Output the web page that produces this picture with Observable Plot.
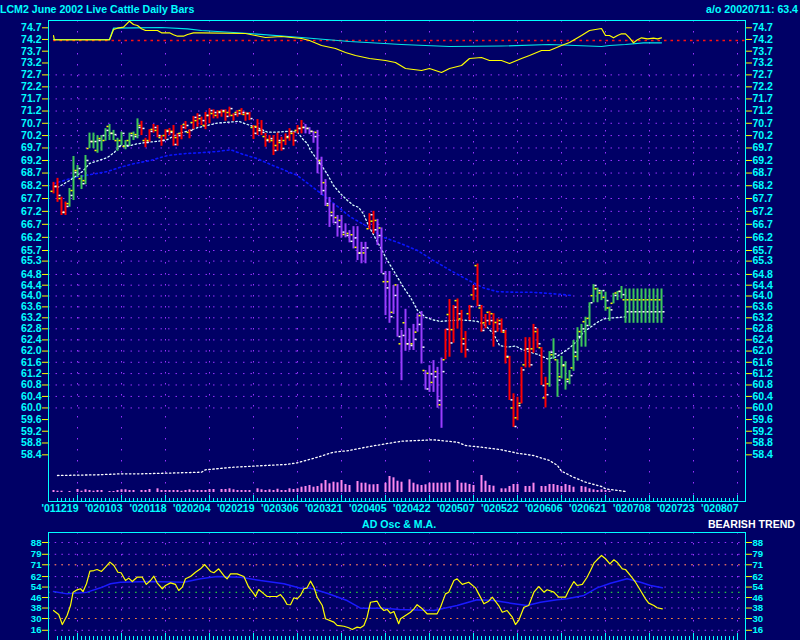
<!DOCTYPE html>
<html><head><meta charset="utf-8">
<script src="https://cdn.jsdelivr.net/npm/d3@7"></script>
<script src="https://cdn.jsdelivr.net/npm/@observablehq/plot@0.6"></script>
<style>
html,body{margin:0;padding:0;background:#000066;}
#wrap{position:relative;width:800px;height:640px;overflow:hidden;background:#000066;font-family:"Liberation Sans",Arial,sans-serif;font-weight:bold;}
.lyr{position:absolute;left:0;}
.txt{position:absolute;color:#00ffff;font-size:10.6px;white-space:nowrap;line-height:normal;}
</style></head><body>
<div id="wrap">
 <div class="txt" style="left:0;top:3px;">LCM2 June 2002 Live Cattle Daily Bars</div>
 <div class="txt" style="right:2px;top:3px;">a/o 20020711: 63.4</div>
 <div id="main" class="lyr" style="top:0"></div>
 <div id="vol" class="lyr" style="top:0"></div>
 <div id="mini" class="lyr" style="top:0"></div>
 <div class="txt" style="left:362px;top:518px;">AD Osc &amp; M.A.</div>
 <div class="txt" style="right:5px;top:518px;color:#ffffff">BEARISH TREND</div>
 <div id="osc" class="lyr" style="top:522px"></div>
</div>
<script>
// ---------- DATA ----------
const dateLabels = ["'011219","'020103","'020118","'020204","'020219","'020306","'020321","'020405","'020422","'020507","'020522","'020606","'020621","'020708","'020723","'020807"];
const majorIdx = [6,17,28,39,50,61,72,83,94,105,116,127,138,149,160,171];
const priceTicks = [74.7,74.2,73.7,73.2,72.7,72.2,71.7,71.2,70.7,70.2,69.7,69.2,68.7,68.2,67.7,67.2,66.7,66.2,65.7,65.3,64.8,64.4,64.0,63.6,63.2,62.8,62.4,62.0,61.6,61.2,60.8,60.4,60.0,59.6,59.2,58.8,58.4];
const oscTickVals = [88,79,71,62,54,46,38,30,21];
const oscTickLabels = ["88","79","71","62","54","46","38","30","16"];

const high = [68.33,68.49,67.75,67.56,68.09,69.36,69.00,68.60,69.40,70.30,
70.30,70.20,70.20,70.48,70.65,70.41,70.09,70.34,70.00,70.30,
70.34,70.88,70.78,70.09,70.44,70.65,70.61,70.20,70.44,70.49,
70.61,70.27,70.61,70.77,70.44,70.98,71.09,70.95,71.14,71.29,
71.25,71.22,71.25,71.25,71.36,71.09,71.22,71.30,71.15,71.14,
70.61,70.85,70.81,70.29,70.20,70.20,70.30,70.13,70.27,70.48,
70.34,70.61,70.81,70.65,70.52,70.37,70.41,69.33,68.44,67.74,
67.49,67.04,67.04,66.72,66.46,66.61,66.61,66.01,66.01,67.11,
67.20,66.89,66.56,64.91,64.91,64.39,64.42,62.74,63.51,62.80,
62.96,63.35,63.43,61.31,61.48,61.66,61.42,61.75,62.78,63.87,
63.65,63.89,63.47,62.70,63.65,64.39,65.19,63.65,63.32,63.43,
63.35,63.16,63.16,62.74,61.81,60.49,60.37,61.42,62.48,62.48,
62.96,62.80,62.12,61.07,61.98,62.44,61.69,61.81,61.62,61.31,
62.38,62.84,62.96,63.22,63.75,64.42,64.29,64.20,64.14,63.59,
64.10,64.17,64.35,64.26,64.26,64.26,64.26,64.26,64.26,64.26,
64.26,64.26,64.26];
const low = [67.88,67.55,67.04,67.04,67.36,67.62,68.53,68.05,68.24,69.67,
69.67,69.49,69.57,69.97,70.00,70.00,69.57,69.80,69.63,69.76,
70.00,70.07,70.20,69.71,69.93,70.30,70.11,69.77,70.03,70.20,
69.77,69.77,70.03,70.44,70.07,70.44,70.54,70.61,70.44,70.68,
70.88,70.88,70.95,70.78,70.95,70.78,70.95,71.02,70.78,70.81,
70.04,70.20,70.20,69.73,69.89,69.40,69.57,69.57,69.80,69.97,
69.77,70.27,70.27,70.27,70.24,69.89,68.67,67.82,67.39,66.58,
66.72,66.21,66.18,66.18,65.99,65.76,65.32,65.20,65.20,66.49,
66.33,65.89,64.83,63.28,63.00,63.32,62.50,60.95,61.99,62.02,
62.02,62.68,61.54,60.62,60.54,60.54,59.99,59.30,61.69,61.78,
62.28,62.79,61.92,61.75,63.10,63.83,63.61,62.68,62.80,62.92,
62.14,62.68,62.64,61.54,60.26,59.33,59.56,60.14,61.40,61.40,
61.92,62.10,60.78,60.00,60.72,61.70,60.37,61.01,60.62,60.81,
61.28,61.64,62.14,62.14,62.88,63.75,63.75,63.83,63.44,63.07,
63.71,63.83,63.89,63.00,63.00,63.00,63.00,63.00,63.00,63.00,
63.00,63.00,63.00];
const open = [67.98,68.17,67.70,67.16,67.50,68.01,68.80,68.48,68.40,69.68,
69.96,69.60,70.08,70.00,70.57,70.29,70.00,70.00,69.76,70.00,
70.29,70.24,70.61,70.00,70.00,70.45,70.41,70.12,70.20,70.41,
70.37,70.12,70.29,70.65,70.33,70.73,70.81,70.89,70.61,71.02,
71.10,71.02,71.18,71.18,71.14,71.02,71.14,71.22,71.06,71.10,
70.53,70.57,70.41,70.16,70.04,70.00,69.80,69.92,70.00,70.12,
70.29,70.41,70.49,70.53,70.49,70.37,70.33,69.20,68.32,67.43,
67.16,66.96,66.85,66.31,66.35,66.30,65.82,65.61,65.61,66.53,
66.82,66.85,66.56,64.53,64.53,63.40,64.41,62.26,63.02,62.26,
62.26,62.68,63.28,61.31,61.21,60.89,61.27,60.11,61.69,63.32,
62.77,63.83,63.16,62.44,63.35,64.04,65.13,63.56,63.02,63.40,
63.35,63.03,63.10,62.68,61.78,60.00,59.66,60.16,61.51,62.08,
62.08,62.70,62.12,60.35,60.84,61.87,61.69,61.09,61.48,61.00,
61.40,61.81,62.70,63.06,63.18,64.01,64.27,64.11,63.95,63.56,
63.73,64.11,64.17,63.86,63.86,63.86,63.86,63.86,63.86,63.86,
63.86,63.86,63.86];
const close = [68.17,67.82,67.16,67.39,67.82,68.72,68.88,68.28,69.20,69.96,
69.96,70.00,70.20,70.41,70.29,70.24,69.76,70.29,69.80,70.20,
70.16,70.53,70.49,69.92,70.37,70.53,70.20,70.00,70.37,70.33,
69.84,70.20,70.53,70.61,70.41,70.94,71.02,70.81,71.02,71.22,
71.14,71.14,71.22,70.98,71.30,71.06,71.10,71.14,71.10,70.89,
70.29,70.41,70.33,70.00,70.08,69.60,70.00,69.68,70.16,70.37,
70.00,70.49,70.53,70.49,70.37,70.16,69.08,68.01,67.50,67.04,
66.77,66.61,66.40,66.27,66.05,66.18,65.60,65.80,65.80,67.07,
66.49,66.27,64.83,64.30,63.24,64.02,62.52,62.56,62.26,62.20,
62.42,62.96,62.14,60.66,61.19,61.09,60.26,61.27,62.78,62.29,
63.59,63.35,62.26,62.05,63.61,64.27,63.65,62.74,63.10,63.10,
62.70,62.98,62.74,61.81,60.28,59.36,60.08,61.33,62.08,61.51,
62.84,62.26,60.78,60.46,61.96,61.90,60.97,61.51,60.92,61.13,
61.96,62.52,62.80,62.92,63.75,64.39,64.20,64.20,63.83,63.49,
64.02,64.17,64.05,63.42,63.42,63.42,63.42,63.42,63.42,63.42,
63.42,63.42,63.42];
// trend state per bar: G = up (green), R = neutral (red), P = down (purple)
const trendCodes = ["RRRRGGGGGG","GGGGGGGGGG","GGRRRRRRRR","RRRRRRRRRR","RRRRRRRRRR","RRRRRRRRRR","RRRPPPPPPP","PPPPPPPPPR","RPPPPPPPPP","PPPPPPPPRR","RRRRRRRRRR","RRRRRRRRRR","RRRRGGGGGG","GGGGGGGGGG","GGGGGGGGGG","GGG"].join("");
// volume, thousands of contracts
const volume = [2,1.3,1.3,0,1,0,3,1.3,2.7,2,
1.3,2,2,0,1,1,2,2.7,2.7,2,
2,0,2,2,3,0,3.7,2,2,2,
2,2,1.3,2,2.7,2,2,2,2,3,
3,0,3,3,3.7,2.7,2,2,2,2,
0,3.7,2.7,2,2.7,2,3.3,2,2,3.7,
3,3.7,5.3,6,7,5.3,6,8.7,12,8.7,
10.3,9.7,12,8,7,0,11,9.3,9.3,7.7,
7.7,8,0,9.3,16,14.7,11.3,10.3,0,12.7,
9.3,7.7,7,7.7,9.3,9.3,9.3,9.3,9.3,9.7,
0,12,9.3,9.3,8,7,0,17,11.3,7,
6.3,0,3.7,3.7,6,8,8,0,6,6,
9.3,0,6,6,8,8,7,6,8,7,
5.3,0,6,5.3,3.7,2.7,2,2.7,2,1.3];
// open interest, thousands [bar, value]
const openInterest = [[1,17],[11,17.7],[17,18.7],[22,18.7],[28,19.3],[37,20.3],[38,22.7],[45,25.3],[53,27],[58,28],[61,29.7],[66,35.3],[70,40.3],[74,42],[78,45.3],[82,48],[87,51.3],[95,52.7],[101,50.3],[103,47],[107,45.3],[112,42.7],[116,39.3],[120,37],[124,32],[126,27],[127,21.3],[130,15.3],[133,10.3],[137,6],[138,3.7],[143,1]];
// short and long moving averages of price [bar, price]
const maFast = [[1,68.13],[4,68.40],[7.25,68.76],[9,69.08],[11.25,69.20],[13.5,69.32],[15.25,69.53],[16.75,69.80],[18.5,69.77],[21,69.87],[23.5,69.93],[26,69.97],[28.5,70.04],[31,70.27],[33.5,70.38],[36,70.52],[38.5,70.61],[41,70.71],[43.5,70.74],[46.25,70.78],[48.5,70.65],[51,70.52],[53.5,70.34],[56,70.34],[58.5,70.37],[61,70.34],[62.25,70.07],[63.5,69.87],[64.25,69.60],[65.5,69.33],[66.75,69.07],[68.5,68.64],[70,68.21],[71.75,67.89],[73.5,67.62],[75,67.43],[76.25,67.36],[77.5,67.10],[78.75,66.65],[81.75,65.81],[83.5,65.32],[85.5,64.82],[87.5,64.32],[89.25,63.95],[91,63.47],[93,63.22],[95,63.12],[96.75,63.07],[99.25,63.10],[101.75,63.12],[104.25,63.10],[106,63.07],[108,62.92],[110,62.62],[111.5,62.20],[113.5,62.14],[115.5,62.18],[117.25,62.05],[119.25,61.96],[121.25,61.87],[123.5,61.72],[125.5,61.78],[127.5,61.96],[129.25,62.14],[131,62.38],[132.5,62.68],[134.25,62.86],[136,63.04],[137.5,63.16],[139.25,63.19],[141.75,63.22],[143.5,63.24]];
const maSlow = [[0,68.28],[5,68.52],[9.25,68.64],[13.5,68.76],[16.75,68.93],[20,69.07],[24.25,69.20],[28.5,69.40],[32.5,69.47],[36.75,69.51],[41,69.56],[44.25,69.63],[47.5,69.44],[51,69.27],[54.25,69.04],[57.5,68.83],[61,68.60],[64.25,68.21],[67.5,67.82],[71,67.39],[74.25,66.98],[78.5,66.61],[82.5,66.20],[86.75,65.97],[91,65.70],[95,65.32],[99.25,64.95],[103.5,64.60],[107.5,64.30],[111,64.16],[115,64.14],[119.25,64.14],[123.5,64.10],[127.5,64.05],[129.25,64.02]];
// relative strength strip (index, 100 = reference)
const rsLine = [[0,105],[0.2,100.7],[14,100.7],[15,111],[16,112.3],[17.5,113.3],[19,119.3],[20,116],[21,115],[22,111.7],[23,110],[26,110],[27,107.7],[29,107.7],[30,105.7],[31,104.3],[32.5,104.3],[33.5,106],[35,107.7],[37,107.7],[48,107],[50.5,105],[53,103],[57,104],[62,102],[64,100],[67,95],[70.5,92],[73,88],[75.5,85],[79,82],[83,80],[85.5,78],[88,72],[92,70],[94,72],[97,68],[99,72],[102,75],[104,82],[107,83],[109,80],[112,80],[114,77],[117,82],[119,85],[122,90],[124,90],[127,95],[129,98],[132,105],[134,110],[137,112],[138,105],[139,105],[140,102.7],[141,105],[142,106.7],[143,106.7],[144,102.7],[145,97.7],[146,100.7],[147,102.7],[148.5,101.7],[150,102.3],[151,101.7],[152,102.7]];
const rsAvg = [[0,101],[14,101],[15,112.3],[20,112.7],[27,113],[33.5,111.7],[37,110],[49,107],[62,103],[74,99],[87,96],[99,94],[112,94.5],[124,96],[137,94],[139,95],[143,96],[147.5,97.7],[152,97.7]];
// AD oscillator and its moving average [bar, value]
const adOsc = [[0,36.1],[1.3,33.1],[2.2,25.4],[3.4,32.3],[4.25,39.9],[4.9,50.1],[5.9,51.9],[6.75,52.7],[7.4,50.6],[8.25,56.5],[9.1,66.1],[10.1,66.6],[10.9,67.4],[12,65.9],[13,69.2],[14.1,73.0],[15.1,70.4],[16.1,65.3],[16.9,64.9],[18,59.0],[18.8,60.8],[19.7,58.2],[20.9,61.5],[22.2,61.5],[23.2,56.0],[24.25,59.0],[25.1,62.3],[25.9,57.2],[27.2,52.7],[28,55.2],[29.25,57.2],[30.5,56.0],[31.3,51.4],[32.2,53.9],[33,60.3],[34.25,62.1],[35.5,65.3],[36.75,67.9],[37.8,71.2],[39.25,65.9],[40.1,64.9],[41.3,67.9],[42.75,62.1],[43.4,60.3],[44.25,64.1],[45.9,64.1],[47.6,62.1],[48.8,53.9],[50.1,48.8],[50.5,46.8],[51.3,52.1],[52.6,48.8],[53.4,46.8],[55.9,46.8],[56.75,48.3],[57.6,45.0],[58.4,40.7],[59.25,40.5],[60.1,45.8],[60.9,45.0],[61.75,47.6],[62.6,52.7],[63.4,53.4],[64.25,58.5],[65.1,53.9],[65.9,46.3],[67.2,39.9],[68,29.8],[70.1,27.2],[70.9,24.7],[72.6,24.1],[73.8,22.9],[74.7,21.6],[75.9,23.4],[76.75,22.9],[77.6,24.7],[78.4,31.0],[79.25,42.4],[80.9,43.2],[81.75,38.6],[82.6,36.1],[83.4,36.9],[84.25,34.0],[85.1,35.3],[86.3,26.0],[86.75,29.8],[89.25,34.8],[90.1,37.4],[90.9,40.5],[92.2,37.4],[93.4,33.6],[95.9,33.6],[96.75,38.6],[98,48.8],[98.8,50.1],[100.1,59.0],[100.9,60.3],[102.2,56.0],[103.8,57.7],[105.5,53.4],[106.3,48.8],[107.6,41.2],[108.8,43.2],[109.7,46.3],[111.3,39.9],[112.2,34.8],[113.4,36.1],[114.7,31.0],[115.5,25.4],[116.3,28.5],[117.6,38.6],[118.8,39.9],[120.1,50.1],[121.3,54.4],[122.6,50.1],[123.4,51.9],[125.1,50.1],[126.3,46.3],[128,46.3],[128.8,51.4],[130.1,58.2],[130.9,55.2],[132.2,56.0],[133.4,61.5],[134.25,66.6],[135.1,72.2],[135.9,74.8],[137,78.1],[138,75.6],[139.1,71.7],[140.1,74.8],[140.9,73.0],[142.2,67.9],[143,67.4],[144.25,62.8],[145.5,57.7],[146.75,51.4],[148,45.0],[148.8,41.7],[150.1,39.9],[150.9,38.2],[152.2,37.4]];
const adOscMA = [[0,50.6],[3.4,48.8],[8.4,50.1],[11.75,53.4],[14.25,56.5],[16.75,57.7],[24.25,58.2],[32.6,57.7],[36.75,60.3],[40.9,62.1],[46.75,61.5],[51.75,59.0],[57.6,56.5],[61.75,53.1],[64.25,53.1],[68.4,49.3],[73.4,43.7],[76.75,37.9],[82.6,37.9],[86.5,36.8],[95.1,36.1],[100.9,39.9],[105.9,44.3],[110.1,43.7],[114.25,41.7],[118.4,39.9],[121.75,42.4],[125.9,44.3],[128.4,45.0],[132.6,47.6],[135.9,53.4],[139.25,56.9],[143.4,60.3],[146.75,57.7],[149.25,55.2],[152.2,53.4]];

// ---------- CHART ----------
const CYAN = "#00ffff", YEL = "#ffff00", GRID = "#9933ff";
const trendColor = {G: "#3cc85a", R: "#ff0000", P: "#9b3cff"};
const xDomain = [-1.25, 173];
const dayTicks = d3.range(1, 172);
const style = {background: "transparent", fontFamily: "Liberation Sans, Arial, sans-serif", fontSize: "10.5px", fontWeight: "bold", overflow: "visible"};
const bars = high.map((h, i) => ({i, high: h, low: low[i], open: open[i], close: close[i], trend: trendCodes[i]}));
const vols = volume.map((v, i) => ({i, v})).filter(d => d.v > 0);
const px = d => d[0], py = d => d[1];

const main = Plot.plot({
  width: 800, height: 520, marginTop: 20, marginBottom: 19, marginLeft: 48, marginRight: 55,
  style,
  color: {type: "identity"},
  x: {domain: xDomain},
  y: {type: "log", domain: [56.85, 75.015]},
  marks: [
    Plot.ruleX(majorIdx, {stroke: GRID, strokeDasharray: "1.5,9.5"}),
    Plot.ruleY(priceTicks.filter(v => v <= 72.7 && v >= 60.0), {stroke: GRID, strokeDasharray: "1.5,6"}),
    Plot.line(maSlow, {x: px, y: py, stroke: "#0a14ff", strokeWidth: 1.6, strokeDasharray: "1.8,3"}),
    Plot.line(maFast, {x: px, y: py, stroke: "#d8ffff", strokeWidth: 1.3, strokeDasharray: "1.5,2.5"}),
    Plot.ruleX(bars, {x: "i", y1: "low", y2: "high", stroke: d => trendColor[d.trend], strokeWidth: 2}),
    Plot.link(bars, {x1: d => d.i - 0.75, x2: d => d.i - 0.25, y1: "open", y2: "open", stroke: YEL, strokeWidth: 1.5}),
    Plot.link(bars, {x1: d => d.i + 0.25, x2: d => d.i + 0.75, y1: "close", y2: "close", stroke: "#ffffff", strokeWidth: 1.5}),
    Plot.ruleX(dayTicks, {stroke: CYAN, insetTop: 478}),
    Plot.ruleX(majorIdx, {stroke: CYAN, insetTop: 475}),
    Plot.frame({stroke: CYAN}),
    Plot.axisY({anchor: "left", ticks: priceTicks, tickFormat: d => d.toFixed(1), tickSize: 6, tickPadding: 1, stroke: YEL, fill: CYAN, label: null}),
    Plot.axisY({anchor: "right", ticks: priceTicks, tickFormat: d => d.toFixed(1), tickSize: 6, tickPadding: 1, stroke: YEL, fill: CYAN, label: null}),
    Plot.axisX({anchor: "bottom", ticks: majorIdx, tickFormat: d => dateLabels[majorIdx.indexOf(d)], tickSize: 0, tickPadding: 3, textAnchor: "end", dx: 1, fill: CYAN, label: null})
  ]
});
document.getElementById("main").appendChild(main);

const volPlot = Plot.plot({
  width: 800, height: 520, marginTop: 392, marginBottom: 28, marginLeft: 48, marginRight: 55,
  style,
  x: {domain: xDomain, axis: null},
  y: {domain: [0, 100], axis: null},
  marks: [
    Plot.ruleX(vols, {x: "i", y1: 0, y2: "v", stroke: "#ff88ee", strokeWidth: 2}),
    Plot.line(openInterest, {x: px, y: py, stroke: "#ffffff", strokeWidth: 1.3, strokeDasharray: "1.5,2.5"})
  ]
});
document.getElementById("vol").appendChild(volPlot);

const miniPlot = Plot.plot({
  width: 800, height: 520, marginTop: 20, marginBottom: 400, marginLeft: 48, marginRight: 55,
  style,
  x: {domain: xDomain, axis: null},
  y: {domain: [20, 120], axis: null},
  marks: [
    Plot.ruleY([100], {x1: 0, x2: 173, stroke: "#ff1010", strokeWidth: 1.5, strokeDasharray: "2.5,4"}),
    Plot.line(rsAvg, {x: px, y: py, stroke: "#00e8e8", strokeWidth: 1.2}),
    Plot.line(rsLine, {x: px, y: py, stroke: YEL, strokeWidth: 1.2})
  ]
});
document.getElementById("mini").appendChild(miniPlot);

const oscStyle = Object.assign({}, style, {fontSize: "9.6px"});
const osc = Plot.plot({
  width: 800, height: 130, marginTop: 10, marginBottom: 12, marginLeft: 48, marginRight: 55,
  style: oscStyle,
  x: {domain: xDomain, axis: null},
  y: {domain: [13.21, 95.63]},
  marks: [
    Plot.ruleX(majorIdx, {stroke: GRID, strokeDasharray: "1.5,9.5"}),
    Plot.ruleY(oscTickVals, {stroke: GRID, strokeDasharray: "1.5,5.2"}),
    Plot.ruleY([71, 30], {stroke: "#ff8c1a", strokeDasharray: "1.5,5.2"}),
    Plot.ruleY([50], {stroke: "#33ff33", strokeDasharray: "1.5,5.2"}),
    Plot.line(adOscMA, {x: px, y: py, stroke: "#1a1aff", strokeWidth: 1.5}),
    Plot.line(adOsc, {x: px, y: py, stroke: YEL, strokeWidth: 1.2}),
    Plot.ruleX(dayTicks, {stroke: CYAN, insetTop: 104}),
    Plot.ruleX(majorIdx, {stroke: CYAN, insetTop: 101}),
    Plot.frame({stroke: CYAN}),
    Plot.axisY({anchor: "left", ticks: oscTickVals, tickFormat: d => oscTickLabels[oscTickVals.indexOf(d)], tickSize: 6, tickPadding: 1, stroke: YEL, fill: CYAN, label: null}),
    Plot.axisY({anchor: "right", ticks: oscTickVals, tickFormat: d => oscTickLabels[oscTickVals.indexOf(d)], tickSize: 6, tickPadding: 1, stroke: YEL, fill: CYAN, label: null})
  ]
});
document.getElementById("osc").appendChild(osc);
</script>
</body></html>
